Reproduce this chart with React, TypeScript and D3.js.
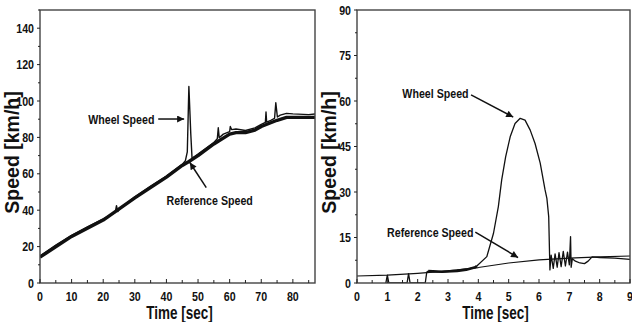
import React from "react";
import * as d3 from "d3";

// left panel: acceleration run, 0-87 s
const leftWheelTime = [0, 5, 10, 15, 20, 23.8, 24.2, 24.6, 25, 30, 35, 40, 45, 46, 46.6, 47.1, 47.7, 48.1, 50, 55, 56.1, 56.4, 56.7, 58, 60, 60.2, 60.6, 62, 65, 68, 70, 71.3, 71.5, 71.7, 73, 74.2, 74.6, 75.1, 76, 78, 80, 85, 87];
const leftWheel = [14.8, 20.8, 26.2, 30.8, 35.2, 38.8, 42.5, 39.2, 40.3, 47.3, 53.2, 58.8, 65.2, 67.2, 72, 108, 82, 68.5, 70.8, 77.2, 79.3, 85.3, 79.8, 81.8, 83.2, 86, 84.3, 84.6, 83.8, 85.2, 87.2, 88.2, 94, 88.4, 89.4, 90.4, 99, 91.2, 92.2, 93.2, 92.9, 92.5, 92.9];
const leftRefTime = [0, 10, 20, 30, 40, 45, 47, 50, 55, 60, 62, 65, 68, 70, 75, 78, 87];
const leftRef = [14.2, 25.6, 34.6, 46.8, 58.2, 64.6, 66.6, 70, 76.4, 81.8, 82.6, 82.6, 84, 86, 89.4, 91, 91];

// right panel: wheel spin on low-friction surface, 0-9 s
const rightWheelTime = [0.95, 1.0, 1.05, 1.65, 1.7, 1.75, 2.25, 2.3, 2.35, 2.8, 3.3, 3.6, 3.9, 3.95, 4.28, 4.5, 4.66, 4.77, 4.9, 5.05, 5.21, 5.38, 5.54, 5.71, 5.87, 6.04, 6.2, 6.26, 6.32, 6.36, 6.4, 6.47, 6.53, 6.6, 6.66, 6.73, 6.8, 6.87, 6.94, 7.0, 7.04, 7.06, 7.1, 7.2, 7.35, 7.5, 7.62, 7.75, 8.0, 8.5, 9.0];
const rightWheel = [0, 2.6, 0, 0, 3.1, 0, 0, 3.6, 3.9, 3.7, 4.0, 4.4, 5.2, 5.6, 8.7, 16.4, 25.2, 34, 41.6, 48.2, 52.6, 54.3, 53.7, 50.4, 46, 39.5, 30.7, 27.9, 21.9, 4.3, 9.2, 4.8, 9.6, 5.2, 10, 5.4, 10.4, 5.6, 10.2, 6, 15.3, 5.2, 8, 7.2, 6.6, 6.4, 7.2, 8.6, 8.4, 8.2, 7.8];
const rightRefTime = [0, 1, 2, 3, 4, 5, 6, 7, 8, 9];
const rightRef = [2.3, 2.6, 3.2, 4.0, 5.1, 6.6, 7.6, 8.2, 8.6, 8.9];

const leftXTicks = [0, 10, 20, 30, 40, 50, 60, 70, 80];
const leftYTicks = [0, 20, 40, 60, 80, 100, 120, 140];
const rightXTicks = [0, 1, 2, 3, 4, 5, 6, 7, 8, 9];
const rightYTicks = [0, 15, 30, 45, 60, 75, 90];

const FONT = "'Liberation Sans', Arial, sans-serif";

type Note = { label: string; tx: number; tv: number; from: [number, number]; to: [number, number]; anchor: string };

const leftNotes: Note[] = [
  { label: "Wheel Speed", tx: 36.2, tv: 90, from: [37.4, 90.1], to: [45.6, 90.1], anchor: "end" },
  { label: "Reference Speed", tx: 40, tv: 45.6, from: [52.6, 52.4], to: [47.4, 66.2], anchor: "start" },
];
const rightNotes: Note[] = [
  { label: "Wheel Speed", tx: 3.68, tv: 62.6, from: [3.76, 62], to: [5.15, 54.7], anchor: "end" },
  { label: "Reference Speed", tx: 3.84, tv: 16.8, from: [3.9, 16.8], to: [5.31, 8.4], anchor: "end" },
];

function zip(t: number[], v: number[]) {
  return t.map((d, i) => [d, v[i]] as [number, number]);
}

function Panel(props: {
  box: { left: number; right: number; top: number; bottom: number };
  xDomain: [number, number];
  yDomain: [number, number];
  xTicks: number[];
  yTicks: number[];
  wheel: [number, number][];
  ref: [number, number][];
  wheelWidth: number;
  refWidth: number;
  noisy?: [number, number];
  notes: Note[];
  id: string;
}) {
  const { box, xDomain, yDomain, xTicks, yTicks, wheel, ref, notes, id } = props;
  const x = d3.scaleLinear().domain(xDomain).range([box.left, box.right]);
  const y = d3.scaleLinear().domain(yDomain).range([box.bottom, box.top]);
  const line = d3.line<[number, number]>().x((d) => x(d[0])).y((d) => y(d[1]));

  const xStep = xTicks[1] - xTicks[0];
  const yStep = yTicks[1] - yTicks[0];
  const xMinor: number[] = [];
  for (let v = xTicks[0] + xStep / 2; v <= xDomain[1]; v += xStep) xMinor.push(v);
  const yMinor: number[] = [];
  for (let v = yTicks[0] + yStep / 2; v <= yDomain[1]; v += yStep) yMinor.push(v);

  const cx = (box.left + box.right) / 2;
  const cy = (box.top + box.bottom) / 2;
  const noisyPart = props.noisy ? wheel.filter((d) => d[0] >= props.noisy![0] && d[0] <= props.noisy![1]) : [];

  return (
    <g>
      <defs>
        <marker id={"arr" + id} viewBox="0 0 10 10" refX="10" refY="5" markerWidth="10" markerHeight="7" markerUnits="userSpaceOnUse" orient="auto">
          <path d="M0,0 L10,5 L0,10 z" fill="#111" />
        </marker>
        <clipPath id={"clip" + id}>
          <rect x={box.left} y={box.top} width={box.right - box.left} height={box.bottom - box.top} />
        </clipPath>
      </defs>
      <g clipPath={`url(#clip${id})`}>
        <path d={line(ref) || ""} fill="none" stroke="#111" strokeWidth={props.refWidth} strokeLinejoin="round" />
        <path d={line(wheel) || ""} fill="none" stroke="#111" strokeWidth={props.wheelWidth} strokeLinejoin="round" />
        {noisyPart.length > 1 && (
          <path d={line(noisyPart) || ""} fill="none" stroke="#111" strokeWidth={2.6} strokeLinejoin="round" />
        )}
      </g>
      <rect x={box.left} y={box.top} width={box.right - box.left} height={box.bottom - box.top} fill="none" stroke="#444" strokeWidth={1.4} />
      {xTicks.map((t) => (
        <g key={"xt" + t}>
          <line x1={x(t)} x2={x(t)} y1={box.bottom} y2={box.bottom - 4} stroke="#222" strokeWidth={1} />
          <text transform={`translate(${x(t)},${box.bottom + 18}) scale(0.82,1)`} textAnchor="middle" fontFamily={FONT} fontWeight="bold" fontSize={13} fill="#111">{t}</text>
        </g>
      ))}
      {xMinor.map((t) => (
        <line key={"xm" + t} x1={x(t)} x2={x(t)} y1={box.bottom} y2={box.bottom - 3} stroke="#222" strokeWidth={1} />
      ))}
      {yTicks.map((t) => (
        <g key={"yt" + t}>
          <line x1={box.left} x2={box.left - 3} y1={y(t)} y2={y(t)} stroke="#222" strokeWidth={1} />
          <text transform={`translate(${box.left - 6},${y(t) + 4.5}) scale(0.82,1)`} textAnchor="end" fontFamily={FONT} fontWeight="bold" fontSize={13} fill="#111">{t}</text>
        </g>
      ))}
      {yMinor.map((t) => (
        <line key={"ym" + t} x1={box.left} x2={box.left - 2} y1={y(t)} y2={y(t)} stroke="#222" strokeWidth={1} />
      ))}
      <text transform={`translate(${cx + 2},${box.bottom + 36}) scale(0.75,1)`} textAnchor="middle" fontFamily={FONT} fontWeight="bold" fontSize={18} fill="#111">Time [sec]</text>
      <text transform={`translate(${box.left - 21},${cy + 6}) rotate(-90)`} textAnchor="middle" fontFamily={FONT} fontWeight="bold" fontSize={19.5} fill="#111">Speed [km/h]</text>
      {notes.map((n) => (
        <g key={n.label}>
          <text transform={`translate(${x(n.tx)},${y(n.tv) + 4.5}) scale(0.82,1)`} textAnchor={n.anchor} fontFamily={FONT} fontWeight="bold" fontSize={13} fill="#111">{n.label}</text>
          <line x1={x(n.from[0])} y1={y(n.from[1])} x2={x(n.to[0])} y2={y(n.to[1])} stroke="#111" strokeWidth={1.5} markerEnd={`url(#arr${id})`} />
        </g>
      ))}
    </g>
  );
}

export default function App() {
  return (
    <svg width={632} height={322} style={{ position: "absolute", left: 0, top: 0, background: "#fff" }}>
      <rect width={632} height={322} fill="#fff" />
      <Panel
        id="L"
        box={{ left: 40, right: 315, top: 10, bottom: 283 }}
        xDomain={[0, 87]}
        yDomain={[0, 150]}
        xTicks={leftXTicks}
        yTicks={leftYTicks}
        wheel={zip(leftWheelTime, leftWheel)}
        ref={zip(leftRefTime, leftRef)}
        wheelWidth={1.4}
        refWidth={3.4}
        notes={leftNotes}
      />
      <Panel
        id="R"
        box={{ left: 357, right: 630, top: 10, bottom: 283 }}
        xDomain={[0, 9]}
        yDomain={[0, 90]}
        xTicks={rightXTicks}
        yTicks={rightYTicks}
        wheel={zip(rightWheelTime, rightWheel)}
        ref={zip(rightRefTime, rightRef)}
        wheelWidth={1.3}
        refWidth={1.2}
        noisy={[2.35, 3.95]}
        notes={rightNotes}
      />
    </svg>
  );
}
